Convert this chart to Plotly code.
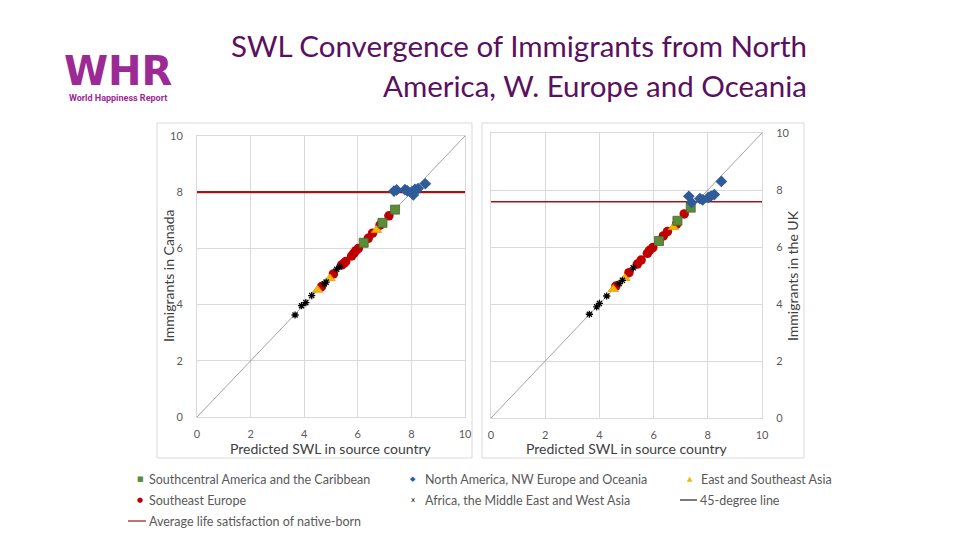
import plotly.graph_objects as go

# ---------------- data ----------------
# North America, NW Europe and Oceania (blue diamonds)
na_x_ca = [7.35, 7.45, 7.76, 7.85, 8.02, 8.07, 8.13, 8.25, 8.52]
na_y_ca = [8.04, 8.08, 8.09, 8.05, 8.02, 7.90, 8.10, 8.13, 8.30]
na_x_uk = [7.30, 7.40, 7.71, 7.81, 8.02, 8.12, 8.24, 8.50]
na_y_uk = [7.78, 7.56, 7.70, 7.65, 7.74, 7.79, 7.84, 8.30]

# Southcentral America and the Caribbean (green squares)
sa_x_ca = [6.22, 6.92, 7.39]
sa_y_ca = [6.20, 6.91, 7.38]
sa_x_uk = [6.20, 6.88, 7.37]
sa_y_uk = [6.21, 6.92, 7.38]

# East and Southeast Asia (gold triangles)
ea_x_ca = [4.50, 4.96, 6.70]
ea_y_ca = [4.52, 4.93, 6.65]
ea_x_uk = [4.51, 4.94, 6.73]
ea_y_uk = [4.52, 4.90, 6.69]

# Southeast Europe (red circles)
se_x_ca = [4.65, 5.09, 5.40, 5.48, 5.55, 5.77, 5.85, 5.93, 6.02, 6.39, 6.55, 6.83, 7.16]
se_y_ca = [4.64, 5.09, 5.41, 5.47, 5.53, 5.73, 5.82, 5.92, 6.00, 6.36, 6.54, 6.83, 7.16]
se_x_uk = [4.61, 5.09, 5.40, 5.54, 5.77, 5.85, 5.97, 6.36, 6.51, 6.85, 7.13]
se_y_uk = [4.63, 5.10, 5.40, 5.54, 5.78, 5.88, 5.98, 6.39, 6.54, 6.80, 7.16]

# Africa, the Middle East and West Asia (black crosses)
af_x_ca = [3.66, 3.90, 4.06, 4.28, 4.75, 4.82, 5.21, 5.32]
af_y_ca = [3.63, 3.96, 4.07, 4.32, 4.74, 4.80, 5.26, 5.35]
af_x_uk = [3.63, 3.90, 4.00, 4.27, 4.73, 4.85, 5.25]
af_y_uk = [3.64, 3.90, 4.02, 4.28, 4.72, 4.83, 5.27]

# average life satisfaction of native-born
native_ca = 8.00
native_uk = 7.59

axis_range = [0, 10]
tick_vals = [0, 2, 4, 6, 8, 10]

title_lines = ["SWL Convergence of Immigrants from North", "America, W. Europe and Oceania"]
legend_labels = [
    "Southcentral America and the Caribbean",
    "North America, NW Europe and Oceania",
    "East and Southeast Asia",
    "Southeast Europe",
    "Africa, the Middle East and West Asia",
    "45-degree line",
    "Average life satisfaction of native-born",
]

# ---------------- styles ----------------
GREEN = "#5B8C3A"
BLUE = "#2F5C99"
GOLD = "#F5B800"
RED = "#C00000"
LINE_RED = "#A31515"
GRID = "#D9D9D9"
TXT = "#595959"
PURPLE = "#5A1060"
LOGO = "#9B2A94"
FONT = "Lato"

W, H = 960, 540


def px(x):
    return x / W


def py(y):
    return 1 - y / H


fig = go.Figure()

panels = [
    dict(xa="x", ya="y", data=[(na_x_ca, na_y_ca), (sa_x_ca, sa_y_ca), (ea_x_ca, ea_y_ca),
                                (se_x_ca, se_y_ca), (af_x_ca, af_y_ca)], native=native_ca, lw=2.2),
    dict(xa="x2", ya="y2", data=[(na_x_uk, na_y_uk), (sa_x_uk, sa_y_uk), (ea_x_uk, ea_y_uk),
                                  (se_x_uk, se_y_uk), (af_x_uk, af_y_uk)], native=native_uk, lw=1.6),
]

for p in panels:
    fig.add_trace(go.Scatter(x=axis_range, y=axis_range, mode="lines",
                             line=dict(color="#8C8C8C", width=0.8),
                             xaxis=p["xa"], yaxis=p["ya"], showlegend=False, hoverinfo="skip"))
    fig.add_trace(go.Scatter(x=axis_range, y=[p["native"], p["native"]], mode="lines",
                             line=dict(color=LINE_RED, width=p["lw"]),
                             xaxis=p["xa"], yaxis=p["ya"], showlegend=False))
    (nx, ny), (sx, sy), (ex, ey), (rx, ry), (ax_, ay) = p["data"]
    fig.add_trace(go.Scatter(x=rx, y=ry, mode="markers",
                             marker=dict(symbol="circle", size=9.5, color=RED, line=dict(width=0)),
                             xaxis=p["xa"], yaxis=p["ya"], showlegend=False))
    fig.add_trace(go.Scatter(x=ex, y=ey, mode="markers",
                             marker=dict(symbol="triangle-up", size=9, color=GOLD,
                                         line=dict(width=0.8, color="#E69500")),
                             xaxis=p["xa"], yaxis=p["ya"], showlegend=False))
    fig.add_trace(go.Scatter(x=sx, y=sy, mode="markers",
                             marker=dict(symbol="square", size=9, color=GREEN,
                                         line=dict(width=0.8, color="#3F6B26")),
                             xaxis=p["xa"], yaxis=p["ya"], showlegend=False))
    fig.add_trace(go.Scatter(x=ax_, y=ay, mode="markers",
                             marker=dict(symbol="asterisk-open", size=6, color="black",
                                         line=dict(width=1.3, color="black")),
                             xaxis=p["xa"], yaxis=p["ya"], showlegend=False))
    fig.add_trace(go.Scatter(x=nx, y=ny, mode="markers",
                             marker=dict(symbol="diamond", size=9, color=BLUE, line=dict(width=0)),
                             xaxis=p["xa"], yaxis=p["ya"], showlegend=False))

axis_common = dict(range=axis_range, tickvals=tick_vals, showgrid=True, gridcolor=GRID,
                   gridwidth=1, zeroline=False, showline=True, linecolor=GRID, mirror=True,
                   tickfont=dict(family=FONT, size=11, color=TXT), ticks="", fixedrange=True)

fig.update_layout(
    autosize=True,
    margin=dict(l=0, r=0, t=0, b=0, autoexpand=False),
    paper_bgcolor="white", plot_bgcolor="white",
    showlegend=False,
    xaxis=dict(domain=[px(197), px(465)], anchor="y", ticklabelstandoff=7, **axis_common),
    yaxis=dict(domain=[py(417), py(136)], anchor="x", ticklabelstandoff=11, **axis_common),
    xaxis2=dict(domain=[px(491), px(762)], anchor="y2", ticklabelstandoff=7, **axis_common),
    yaxis2=dict(domain=[py(418), py(133)], anchor="x2", side="right", ticklabelstandoff=11,
                **axis_common),
)

shapes = []
for x0, x1 in [(157, 472), (482, 804)]:
    shapes.append(dict(type="rect", xref="paper", yref="paper", x0=px(x0), x1=px(x1),
                       y0=py(458), y1=py(123), line=dict(color=GRID, width=1)))
shapes.append(dict(type="line", xref="paper", yref="paper", x0=px(680), x1=px(697),
                   y0=py(500), y1=py(500), line=dict(color="#262626", width=1.2)))
shapes.append(dict(type="line", xref="paper", yref="paper", x0=px(128), x1=px(146),
                   y0=py(521), y1=py(521), line=dict(color=LINE_RED, width=1.2)))
fig.update_layout(shapes=shapes)

ann = []
for i, line in enumerate(title_lines):
    ann.append(dict(text=line, xref="paper", yref="paper", x=px(809), y=py(46 + 40 * i),
                    xanchor="right", yanchor="middle", showarrow=False,
                    font=dict(family=FONT, size=29.5, color=PURPLE)))
ann.append(dict(text="<b>WHR</b>", xref="paper", yref="paper", x=px(118), y=py(71),
                xanchor="center", yanchor="middle", showarrow=False,
                font=dict(family="DejaVu Sans", size=40, color=LOGO)))
ann.append(dict(text="<b>World Happiness Report</b>", xref="paper", yref="paper", x=px(118),
                y=py(98), xanchor="center", yanchor="middle", showarrow=False,
                font=dict(family="Roboto", size=9, color=LOGO)))
for xc in (331, 627):
    ann.append(dict(text="Predicted SWL in source country", xref="paper", yref="paper",
                    x=px(xc), y=py(448), xanchor="center", yanchor="middle", showarrow=False,
                    font=dict(family=FONT, size=14, color="#404040")))
ann.append(dict(text="Immigrants in Canada", xref="paper", yref="paper", x=px(168), y=py(276),
                xanchor="center", yanchor="middle", showarrow=False, textangle=-90,
                font=dict(family=FONT, size=14, color="#404040")))
ann.append(dict(text="Immigrants in the UK", xref="paper", yref="paper", x=px(792), y=py(276),
                xanchor="center", yanchor="middle", showarrow=False, textangle=-90,
                font=dict(family=FONT, size=14, color="#404040")))

leg = [
    ("■", GREEN, 140, 147, 479, legend_labels[0]),
    ("◆", BLUE, 413, 423, 479, legend_labels[1]),
    ("▲", GOLD, 690, 699, 479, legend_labels[2]),
    ("●", RED, 140, 147, 500, legend_labels[3]),
    ("x", "#000000", 413, 423, 500, legend_labels[4]),
    (None, None, None, 698, 500, legend_labels[5]),
    (None, None, None, 147, 521, legend_labels[6]),
]
for g, c, gx, tx, ty, lab in leg:
    if g is not None:
        ann.append(dict(text=g, xref="paper", yref="paper", x=px(gx), y=py(ty), xanchor="center",
                        yanchor="middle", showarrow=False,
                        font=dict(family="DejaVu Sans", size=7, color=c)))
    ann.append(dict(text=lab, xref="paper", yref="paper", x=px(tx), y=py(ty), xanchor="left",
                    yanchor="middle", showarrow=False,
                    font=dict(family=FONT, size=12.5, color=TXT)))
fig.update_layout(annotations=ann)

post = """
var de=document.documentElement.style; de.height='100%'; de.margin='0'; de.padding='0'; de.overflow='hidden';
var bs=document.body.style; bs.height='100%'; bs.margin='0'; bs.padding='0'; bs.overflow='hidden';
var gd=document.getElementById('{plot_id}');
gd.parentElement.style.height='100%'; gd.parentElement.style.width='100%';
gd.style.height='100%'; gd.style.width='100%';
Plotly.Plots.resize(gd);
"""

fig.write_html("out.html", default_width="100%", default_height="100%",
               config={"displayModeBar": False, "responsive": True}, post_script=post)
